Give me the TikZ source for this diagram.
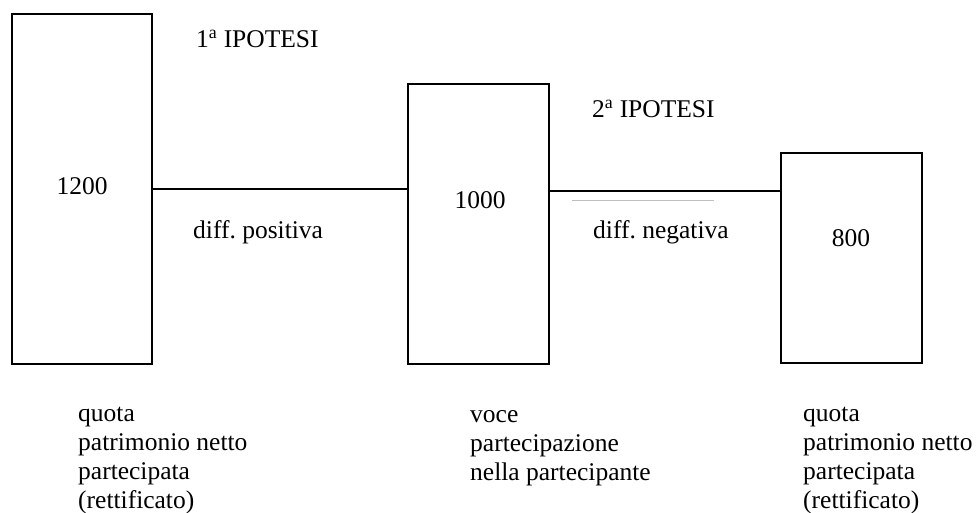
\documentclass[tikz,border=0pt]{standalone}
\usepackage{fontspec}
\setmainfont{Liberation Serif}
\usetikzlibrary{positioning,calc}
\frenchspacing

\tikzset{
    quotabox/.style={draw, line width=1.6pt, inner sep=0pt},
    lbl/.style={inner sep=0pt, anchor=base west},
    num/.style={inner sep=0pt, anchor=base},
    bottomtxt/.style={inner sep=0pt, anchor=base west, align=left}
}

\begin{document}
\begin{tikzpicture}[x=1pt, y=-1pt, font=\fontsize{25.5}{28.7}\selectfont]
\useasboundingbox (0,0) rectangle (977,513);

% the three boxes
\node (b1) [quotabox, minimum width=140pt, minimum height=350pt] at (82,189) {};
\node (b2) [quotabox, minimum width=141pt, minimum height=280pt] at (478.5,224) {};
\node (b3) [quotabox, minimum width=141pt, minimum height=210pt] at (851.5,258) {};

\node (n1) [num] at (82,195) {1200};
\node (n2) [num] at (480,208) {1000};
\node (n3) [num] at (851,247) {800};

% connectors
\coordinate (l2) at (0,191);
\draw [line width=1.6pt] (b1.east) -- (b1.east -| b2.west);
\draw [line width=1.6pt] (b2.east |- l2) -- (b3.west |- l2);
\draw [line width=0.8pt, black!25] (572,200) -- (714,200);

\node (h1) [lbl] at (196,48) {1\textsuperscript{a} IPOTESI};
\node (h2) [lbl] at (592,118) {2\textsuperscript{a} IPOTESI};
\node (d1) [lbl] at (193,238) {diff. positiva};
\node (d2) [lbl] at (593,238) {diff. negativa};

% captions below (base = last line)
\node (c1) [bottomtxt] at (78,508) {quota\\patrimonio netto\\partecipata\\(rettificato)};
\node (c2) [bottomtxt] at (470,480) {voce\\partecipazione\\nella partecipante};
\node (c3) [bottomtxt] at (803,508) {quota\\patrimonio netto\\partecipata\\(rettificato)};

\end{tikzpicture}
\end{document}
